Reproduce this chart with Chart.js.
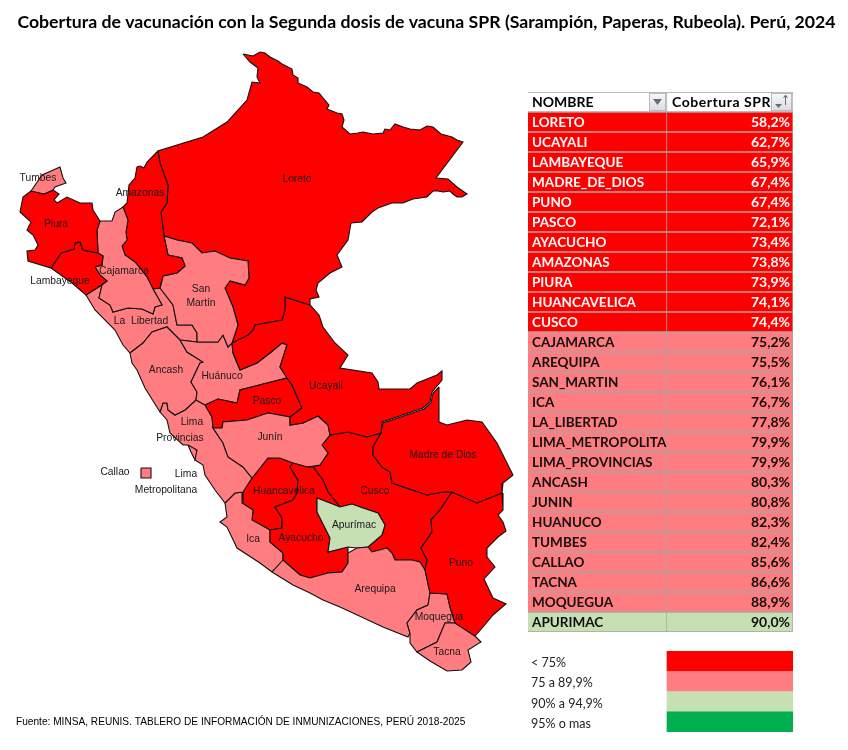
<!DOCTYPE html>
<html><head><meta charset="utf-8">
<script src="https://cdn.jsdelivr.net/npm/chart.js@4"></script>
<style>
html,body{margin:0;padding:0;background:#fff;width:848px;height:750px;overflow:hidden}
canvas{position:absolute;display:block;left:0;top:0}
#mapBox{position:absolute;left:0;top:0;width:848px;height:750px;overflow:hidden}
#tableBox{position:absolute;left:527px;top:91px;width:267px;height:542px}
#legendBox{position:absolute;left:528px;top:651px;width:265px;height:81px}
</style></head><body>
<div id="mapBox"><canvas id="map" width="853" height="750"></canvas></div>
<div id="tableBox"><canvas id="table" width="267" height="542"></canvas></div>
<div id="legendBox"><canvas id="legend" width="265" height="81"></canvas></div>
<script>
const titleText = "Cobertura de vacunación con la Segunda dosis de vacuna SPR (Sarampión, Paperas, Rubeola). Perú, 2024";
const sourceText = "Fuente: MINSA, REUNIS. TABLERO DE INFORMACIÓN DE INMUNIZACIONES, PERÚ 2018-2025";

const regionNames = ["LORETO","UCAYALI","LAMBAYEQUE","MADRE_DE_DIOS","PUNO","PASCO","AYACUCHO","AMAZONAS","PIURA","HUANCAVELICA","CUSCO","CAJAMARCA","AREQUIPA","SAN_MARTIN","ICA","LA_LIBERTAD","LIMA_METROPOLITANA","LIMA_PROVINCIAS","ANCASH","JUNIN","HUANUCO","TUMBES","CALLAO","TACNA","MOQUEGUA","APURIMAC"];
const coverage = [58.2,62.7,65.9,67.4,67.4,72.1,73.4,73.8,73.9,74.1,74.4,75.2,75.5,76.1,76.7,77.8,79.9,79.9,80.3,80.8,82.3,82.4,85.6,86.6,88.9,90.0];
const headerNames = ["NOMBRE","Cobertura SPR"];

const legendLabels = ["< 75%","75 a 89,9%","90% a 94,9%","95% o mas"];
const legendColors = ["#ff0000","#ff7c80","#c6e0b4","#00b050"];
const classLimits = [75,90,95];

// Map outlines, in the map's own units
const TUMBES = [[31,191],[42,175],[60,167],[63,178],[66,183],[55,187],[53,190],[44,194]];
const PIURA = [[31,191],[44,194],[53,190],[59,194],[54,200],[57,203],[67,197],[80,203],[92,203],[93,210],[100,221],[97,230],[98,253],[83,250],[80,242],[75,243],[74,249],[61,253],[51,268],[28,261],[27,251],[35,250],[38,245],[33,235],[27,230],[31,222],[20,212],[23,197]];
const LAMBAYEQUE = [[51,268],[61,253],[74,249],[75,243],[80,242],[83,250],[98,253],[103,256],[102,265],[95,267],[100,275],[107,281],[97,288],[86,295],[72,283]];
const CAJAMARCA = [[100,221],[112,221],[115,212],[123,207],[128,220],[126,232],[127,240],[122,246],[125,255],[135,262],[147,277],[153,289],[162,305],[155,307],[153,314],[142,309],[128,308],[113,312],[110,305],[99,298],[102,285],[107,281],[100,275],[95,267],[102,265],[103,256],[98,253],[97,230]];
const AMAZONAS = [[158,151],[147,162],[144,168],[140,166],[137,167],[135,178],[129,185],[127,203],[123,207],[128,220],[126,232],[127,240],[122,246],[125,255],[135,262],[147,277],[153,289],[160,288],[163,276],[177,273],[185,266],[182,258],[168,255],[164,236],[161,212],[167,203],[168,185],[160,163]];
const SAN_MARTIN = [[164,236],[177,240],[192,243],[202,253],[215,251],[230,258],[248,261],[249,278],[245,285],[230,281],[225,288],[233,307],[238,325],[232,343],[228,347],[223,335],[218,342],[197,342],[197,333],[192,325],[177,325],[173,305],[160,288],[163,276],[177,273],[185,266],[182,258],[168,255]];
const LORETO = [[243,54],[253,56],[260,52],[265,53],[270,57],[278,61],[282,64],[292,69],[293,75],[298,78],[298,83],[307,87],[313,92],[319,93],[324,99],[329,105],[327,109],[337,113],[342,114],[344,120],[342,127],[350,134],[358,133],[363,132],[373,134],[383,133],[385,129],[390,130],[395,124],[403,127],[410,129],[420,130],[427,126],[433,127],[441,134],[452,137],[457,140],[463,142],[436,178],[448,179],[457,187],[467,194],[462,197],[457,197],[453,194],[450,191],[443,192],[438,191],[433,191],[427,197],[413,199],[403,203],[392,203],[378,208],[372,212],[362,222],[351,223],[348,240],[337,255],[342,267],[330,273],[318,283],[316,290],[319,297],[310,299],[310,305],[285,297],[285,310],[282,320],[265,323],[255,325],[253,330],[248,335],[232,343],[238,325],[233,307],[225,288],[230,281],[245,285],[249,278],[248,261],[230,258],[215,251],[202,253],[192,243],[177,240],[164,236],[161,212],[167,203],[168,185],[160,163],[158,151],[203,137],[227,122],[247,100],[252,82],[260,83],[257,77],[258,68],[250,62]];
const UCAYALI = [[232,343],[248,335],[253,330],[255,325],[265,323],[282,320],[285,310],[285,297],[310,305],[319,315],[323,327],[335,343],[348,355],[340,368],[372,373],[378,382],[379,389],[410,389],[417,383],[437,375],[442,371],[442,380],[432,392],[430,402],[423,408],[382,422],[381,433],[367,437],[348,432],[330,435],[328,425],[318,416],[303,423],[290,425],[290,417],[302,408],[292,385],[287,378],[280,367],[287,345],[282,343],[270,353],[257,363],[240,370],[233,353]];
const MADRE_DE_DIOS = [[439,387],[439,422],[447,425],[467,420],[482,422],[497,443],[513,475],[503,483],[502,493],[477,503],[452,492],[443,492],[427,495],[392,483],[390,472],[382,467],[373,455],[373,447],[381,433],[383,423],[424,409],[431,403],[433,393]];
const PUNO = [[452,492],[477,503],[502,493],[503,510],[498,515],[503,522],[506,531],[498,537],[487,548],[487,557],[495,567],[484,579],[493,598],[506,604],[493,615],[483,627],[475,636],[455,623],[450,607],[447,594],[430,593],[425,570],[427,560],[421,548],[432,532],[431,520],[440,510]];
const TACNA = [[417,652],[437,642],[445,623],[455,623],[475,636],[481,642],[468,650],[471,662],[462,670],[447,671],[430,661]];
const MOQUEGUA = [[407,623],[417,610],[428,605],[430,593],[447,594],[450,607],[455,623],[445,623],[437,642],[417,652],[410,643],[410,633]];
const AREQUIPA = [[272,572],[283,560],[300,575],[310,578],[328,573],[342,572],[348,563],[348,553],[357,548],[368,547],[372,552],[387,548],[392,553],[395,560],[412,560],[420,562],[425,570],[430,593],[428,605],[417,610],[407,623],[410,633],[408,637],[383,627],[340,607],[323,600],[310,593],[293,585]];
const APURIMAC = [[317,498],[330,503],[340,507],[352,504],[363,508],[378,513],[385,525],[382,535],[368,547],[357,548],[348,547],[328,552],[330,538],[322,522],[317,512]];
const AYACUCHO = [[293,463],[290,467],[298,480],[297,493],[293,500],[275,507],[282,518],[282,528],[270,530],[270,542],[283,553],[283,560],[300,575],[310,578],[328,573],[342,572],[348,563],[348,553],[348,547],[328,552],[330,538],[322,522],[317,512],[317,498],[330,503],[340,507],[328,492],[323,480],[313,467],[307,467]];
const JUNIN = [[213,428],[223,443],[228,457],[243,467],[252,478],[268,458],[280,458],[293,463],[307,467],[320,465],[328,453],[322,445],[330,435],[328,425],[318,416],[303,423],[290,425],[290,417],[268,413],[247,420],[223,422],[222,428]];
const PASCO = [[205,405],[218,399],[237,403],[240,390],[287,378],[292,385],[302,408],[290,417],[268,413],[247,420],[223,422],[222,428],[213,428],[212,417]];
const HUANUCO = [[180,340],[197,342],[218,342],[223,335],[228,347],[232,343],[233,353],[240,370],[257,363],[270,353],[282,343],[287,345],[280,367],[287,378],[240,390],[237,403],[218,399],[205,405],[196,400],[197,392],[191,382],[200,363],[203,362],[187,352]];
const ANCASH = [[130,353],[143,343],[152,332],[167,327],[180,340],[187,352],[203,362],[200,363],[191,382],[197,392],[196,400],[185,410],[175,415],[168,410],[167,403],[163,403],[160,412],[145,388],[137,370],[132,363]];
const LA_LIBERTAD = [[86,295],[97,288],[102,285],[99,298],[110,305],[113,312],[128,308],[142,309],[153,314],[155,307],[162,305],[153,289],[160,288],[173,305],[177,325],[192,325],[197,333],[197,342],[180,340],[167,327],[152,332],[143,343],[130,353],[123,345],[115,330],[95,310]];
const LIMA_PROVINCIAS = [[160,412],[163,403],[167,403],[168,410],[175,415],[185,410],[196,400],[205,405],[212,417],[213,428],[223,443],[228,457],[243,467],[252,478],[243,492],[235,493],[225,503],[215,490],[205,475],[203,465],[195,460],[197,450],[188,445],[183,445],[170,433],[167,420]];
const LIMA_METROPOLITANA = [[188,445],[195,446],[197,453],[195,460],[191,452]];
const ICA = [[225,503],[235,493],[243,492],[242,503],[253,510],[252,520],[270,530],[270,542],[283,553],[283,562],[272,572],[260,563],[237,548],[227,527],[220,522],[227,517]];
const HUANCAVELICA = [[252,478],[268,458],[280,458],[293,463],[290,467],[298,480],[297,493],[293,500],[275,507],[282,518],[282,528],[270,530],[252,520],[253,510],[242,503],[243,492]];
const CUSCO = [[313,467],[320,465],[328,453],[322,445],[330,435],[348,432],[367,437],[381,433],[373,447],[373,455],[382,467],[390,472],[392,483],[427,495],[443,492],[452,492],[440,510],[431,520],[432,532],[421,548],[427,560],[425,570],[420,562],[412,560],[395,560],[392,553],[387,548],[372,552],[368,547],[382,535],[385,525],[378,513],[363,508],[352,504],[340,507],[328,492],[323,480]];
const CALLAO = [[141,468],[151,468],[151,478],[141,478]];

const outlines = {TUMBES,PIURA,LAMBAYEQUE,CAJAMARCA,AMAZONAS,SAN_MARTIN,LORETO,UCAYALI,MADRE_DE_DIOS,PUNO,TACNA,MOQUEGUA,AREQUIPA,APURIMAC,AYACUCHO,JUNIN,PASCO,HUANUCO,ANCASH,LA_LIBERTAD,LIMA_PROVINCIAS,LIMA_METROPOLITANA,ICA,HUANCAVELICA,CUSCO,CALLAO};

const mapLabelText = ["Tumbes","Piura","Lambayeque","Amazonas","Cajamarca","San","Martín","La  Libertad","Loreto","Ancash","Huánuco","Ucayali","Pasco","Lima","Provincias","Callao","Lima","Metropolitana","Junín","Huancavelica","Ayacucho","Ica","Apurímac","Cusco","Madre de Dios","Puno","Arequipa","Moquegua","Tacna"];
const mapLabelX = [38,56,60,140,124,201,201,141,297,166,222,326,267,192,180,115,186,166,270,284,301,253,354,375,443,461,375,439,447];
const mapLabelY = [178,224,281,193,271,289,303,321,179,370,376,386,401,422,438,472,474,490,437,491,538,539,525,491,455,563,589,617,652];

function classColor(v){
  let i = 0;
  while (i < classLimits.length && v >= classLimits[i]) i++;
  return legendColors[i];
}
function coverageOf(name){ return coverage[regionNames.indexOf(name)]; }
const BORDER = "#111111";
const TABLE_GRID = "#a6a6a6";

const mapLabelsPlugin = {
  id: "mapLabels",
  afterDatasetsDraw(chart){
    const {ctx, scales:{x,y}} = chart;
    ctx.save();
    ctx.fillStyle = "#1a1a1a";
    ctx.font = "10.3px 'Liberation Sans'";
    ctx.textAlign = "center";
    ctx.textBaseline = "middle";
    mapLabelText.forEach((t,i)=>ctx.fillText(t, x.getPixelForValue(mapLabelX[i]), y.getPixelForValue(mapLabelY[i])));
    ctx.textAlign = "left";
    ctx.fillStyle = "#000";
    ctx.font = "10.15px 'Liberation Sans'";
    ctx.fillText(sourceText, x.getPixelForValue(16), y.getPixelForValue(722));
    ctx.restore();
  }
};

new Chart(document.getElementById("map"), {
  type: "scatter",
  data: { datasets: Object.keys(outlines).map(name => {
    const pts = outlines[name];
    return {
      label: name,
      data: pts.concat([pts[0]]).map(p => ({x:p[0], y:p[1]})),
      showLine: true,
      fill: "shape",
      tension: 0,
      backgroundColor: classColor(coverageOf(name)),
      borderColor: BORDER,
      borderWidth: 1.1,
      pointRadius: 0,
      pointHoverRadius: 0
    };
  })},
  options: {
    responsive: false, animation: false, devicePixelRatio: 1,
    layout: {padding: 0},
    events: [],
    plugins: {
      legend: {display:false}, tooltip: {enabled:false},
      title: {display:true, text:titleText, color:"#000",
        font:{family:"Lato", weight:"bold", size:17.7, lineHeight:"20px"},
        padding:{top:12, bottom:8}}
    },
    scales: {
      x: {type:"linear", min:0, max:853, display:false},
      y: {type:"linear", min:40, max:750, reverse:true, display:false}
    }
  },
  plugins: [mapLabelsPlugin]
});

// Table: one row per region, two stacked cells per row
const tableRows = [headerNames[0]].concat(regionNames);
const NAME_CELL = 139, VALUE_CELL = 126;
const rowColors = ["#ffffff"].concat(coverage.map(classColor));
const tablePlugin = {
  id: "tableText",
  afterDatasetsDraw(chart){
    const {ctx, scales:{x,y}} = chart;
    const h = y.getPixelForValue(1) - y.getPixelForValue(0);
    ctx.save();
    ctx.textBaseline = "middle";
    regionNames.forEach((n,i)=>{
      const py = y.getPixelForValue(i+1);
      const col = classColor(coverage[i]) === legendColors[0] ? "#ffffff" : "#101010";
      ctx.fillStyle = col;
      ctx.font = "bold 13.5px Lato";
      ctx.save();
      ctx.beginPath(); ctx.rect(x.getPixelForValue(0), py-h/2, NAME_CELL, h); ctx.clip();
      ctx.textAlign = "left";
      ctx.fillText(n, x.getPixelForValue(4), py+0.5);
      ctx.restore();
      ctx.font = "bold 14px Lato";
      ctx.textAlign = "right";
      ctx.fillText(coverage[i].toFixed(1).replace(".",",")+"%", x.getPixelForValue(NAME_CELL+VALUE_CELL-3), py+0.5);
    });
    // header
    const hy = y.getPixelForValue(0);
    ctx.fillStyle = "#000";
    ctx.font = "bold 14px Lato";
    ctx.textAlign = "left";
    ctx.fillText(headerNames[0], x.getPixelForValue(4), hy+0.5);
    ctx.letterSpacing = "0.55px";
    ctx.fillText(headerNames[1], x.getPixelForValue(NAME_CELL+5), hy+0.5);
    ctx.letterSpacing = "0px";
    // filter buttons
    [[121,17],[243,21]].forEach(([bx,bw],k)=>{
      const px = x.getPixelForValue(bx), t = hy-9;
      const g = ctx.createLinearGradient(0,t,0,t+18);
      g.addColorStop(0,"#f7f8fa"); g.addColorStop(1,"#d9dce2");
      ctx.fillStyle = g; ctx.fillRect(px,t,bw,18);
      ctx.strokeStyle = "#b5bac4"; ctx.lineWidth = 1; ctx.strokeRect(px+.5,t+.5,bw-1,17);
      if (k===0){
        ctx.fillStyle="#6b6b70"; ctx.beginPath();
        ctx.moveTo(px+4,hy-3); ctx.lineTo(px+13,hy-3); ctx.lineTo(px+8.5,hy+3); ctx.closePath(); ctx.fill();
      } else {
        ctx.fillStyle="#6b6b70"; ctx.beginPath();
        ctx.moveTo(px+4,hy+2); ctx.lineTo(px+11,hy+2); ctx.lineTo(px+7.5,hy+6); ctx.closePath(); ctx.fill();
        ctx.strokeStyle="#6b6b70"; ctx.beginPath();
        ctx.moveTo(px+14.5,hy+3); ctx.lineTo(px+14.5,hy-6); ctx.moveTo(px+12.5,hy-4); ctx.lineTo(px+14.5,hy-7); ctx.lineTo(px+16.5,hy-4); ctx.stroke();
      }
    });
    ctx.restore();
  }
};
new Chart(document.getElementById("table"), {
  type: "bar",
  data: { labels: tableRows, datasets: [
    {label:"NOMBRE", data: tableRows.map(()=>NAME_CELL), backgroundColor: rowColors, borderColor: TABLE_GRID, borderWidth:1, stack:"s", barPercentage:1, categoryPercentage:1},
    {label:"Cobertura SPR", data: tableRows.map(()=>VALUE_CELL), backgroundColor: rowColors, borderColor: TABLE_GRID, borderWidth:1, stack:"s", barPercentage:1, categoryPercentage:1}
  ]},
  options: {
    indexAxis:"y", responsive:false, animation:false, events:[], devicePixelRatio:1,
    layout:{padding:1},
    plugins:{legend:{display:false}, tooltip:{enabled:false}},
    scales:{
      x:{type:"linear", min:0, max:NAME_CELL+VALUE_CELL, stacked:true, display:false},
      y:{type:"category", stacked:true, display:false}
    }
  },
  plugins:[tablePlugin]
});

// Colour key
const LEGEND_GAP = 139, LEGEND_SWATCH = 126;
new Chart(document.getElementById("legend"), {
  type:"bar",
  data:{ labels: legendLabels, datasets:[
    {label:"gap", data: legendLabels.map(()=>LEGEND_GAP), backgroundColor:"rgba(0,0,0,0)", stack:"s", barPercentage:1, categoryPercentage:1},
    {label:"class", data: legendLabels.map(()=>LEGEND_SWATCH), backgroundColor: legendColors, stack:"s", barPercentage:1, categoryPercentage:1}
  ]},
  options:{
    indexAxis:"y", responsive:false, animation:false, events:[], devicePixelRatio:1,
    layout:{padding:0},
    plugins:{legend:{display:false}, tooltip:{enabled:false}},
    scales:{
      x:{type:"linear", min:0, max:LEGEND_GAP+LEGEND_SWATCH, stacked:true, display:false},
      y:{type:"category", stacked:true, display:false}
    }
  },
  plugins:[{
    id:"legendText",
    afterDatasetsDraw(chart){
      const {ctx, scales:{x,y}} = chart;
      ctx.save();
      ctx.fillStyle="#222"; ctx.font="12.5px Lato"; ctx.textBaseline="middle"; ctx.textAlign="left";
      legendLabels.forEach((t,i)=>ctx.fillText(t, x.getPixelForValue(3), y.getPixelForValue(i)+2));
      ctx.restore();
    }
  }]
});
</script>
</body></html>
